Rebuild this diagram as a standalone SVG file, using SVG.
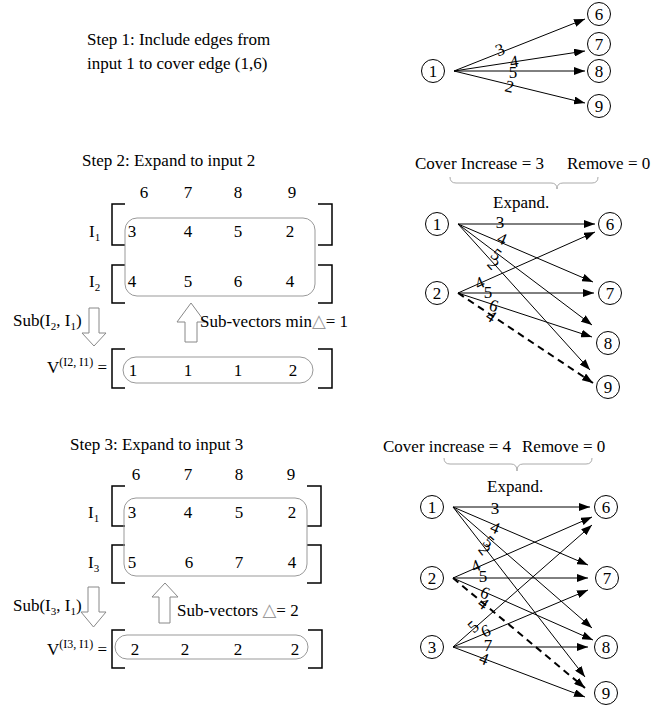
<svg xmlns="http://www.w3.org/2000/svg" width="670" height="711" viewBox="0 0 670 711">
  <defs>
    <marker id="arrow" viewBox="0 0 11 8" refX="11" refY="4" markerWidth="11" markerHeight="8" markerUnits="userSpaceOnUse" orient="auto">
      <path d="M0,0 L11,4 L0,8 z" fill="#000"/>
    </marker>
    <style>
      text { font-family: "Liberation Serif", "Times New Roman", serif; font-size: 17px; fill: #000; }
      .mid { text-anchor: middle; }
      .sub { font-size: 11px; }
      .sup { font-size: 12px; }
      .tri { fill: #999; font-family: "DejaVu Sans", sans-serif; font-size: 18px; }
      .node circle { fill: #fff; stroke: #000; stroke-width: 1; }
      .edge { stroke: #000; stroke-width: 1; fill: none; marker-end: url(#arrow); }
      .dash { stroke: #000; stroke-width: 2; stroke-dasharray: 7 5; fill: none; marker-end: url(#arrow); }
      .brk { stroke: #000; stroke-width: 1.5; fill: none; }
      .box { stroke: #999; stroke-width: 1; fill: none; }
      .brace { stroke: #aaa; stroke-width: 1; fill: none; }
      .blk { stroke: #888; stroke-width: 1; fill: #fff; }
    </style>
  </defs>

  <!-- ===== Step 1 ===== -->
  <text x="87" y="45">Step 1: Include edges from</text>
  <text x="87" y="69">input 1 to cover edge (1,6)</text>

  <g id="s1-connectors">
    <line class="edge" x1="454" y1="71" x2="585" y2="19"/>
    <line class="edge" x1="454" y1="71" x2="585" y2="51"/>
    <line class="edge" x1="454" y1="71" x2="585" y2="71"/>
    <line class="edge" x1="454" y1="71" x2="585" y2="103"/>
    <text class="mid" transform="translate(502,55) rotate(-21)">3</text>
    <text class="mid" transform="translate(515,67) rotate(-9)">4</text>
    <text class="mid" transform="translate(513,78)">5</text>
    <text class="mid" transform="translate(508,92) rotate(14)">2</text>
  </g>
  <g id="s1-n1" class="node"><circle cx="433" cy="71" r="11.5"/><text class="mid" x="433" y="77">1</text></g>
  <g id="s1-n6" class="node"><circle cx="599" cy="14" r="11.5"/><text class="mid" x="599" y="20">6</text></g>
  <g id="s1-n7" class="node"><circle cx="599" cy="44" r="11.5"/><text class="mid" x="599" y="50">7</text></g>
  <g id="s1-n8" class="node"><circle cx="599" cy="71" r="11.5"/><text class="mid" x="599" y="77">8</text></g>
  <g id="s1-n9" class="node"><circle cx="599" cy="106" r="11.5"/><text class="mid" x="599" y="112">9</text></g>

  <!-- ===== Step 2: matrix ===== -->
  <text x="82" y="166">Step 2: Expand to input 2</text>
  <g id="s2-matrix">
    <text class="mid" x="144" y="198">6</text>
    <text class="mid" x="188" y="198">7</text>
    <text class="mid" x="238" y="198">8</text>
    <text class="mid" x="292" y="198">9</text>

    <text x="89" y="237">I<tspan class="sub" dy="4">1</tspan></text>
    <text x="89" y="287">I<tspan class="sub" dy="4">2</tspan></text>

    <path class="brk" d="M125,204 H112 V245 H125"/>
    <path class="brk" d="M318,204 H332 V245 H318"/>
    <path class="brk" d="M125,265 H112 V303 H125"/>
    <path class="brk" d="M318,265 H332 V303 H318"/>
    <rect class="box" x="125" y="218" width="190" height="78" rx="12"/>

    <text class="mid" x="132" y="237">3</text>
    <text class="mid" x="188" y="237">4</text>
    <text class="mid" x="238" y="237">5</text>
    <text class="mid" x="290" y="237">2</text>
    <text class="mid" x="132" y="287">4</text>
    <text class="mid" x="188" y="287">5</text>
    <text class="mid" x="238" y="287">6</text>
    <text class="mid" x="290" y="287">4</text>
  </g>

  <g id="s2-ops">
    <text x="13" y="326">Sub(I<tspan class="sub" dy="4">2</tspan><tspan dy="-4">, I</tspan><tspan class="sub" dy="4">1</tspan><tspan dy="-4">)</tspan></text>
    <polygon class="blk" points="89,308 99,308 99,333 106,333 94,346 82,333 89,333"/>
    <polygon class="blk" points="185,342 197,342 197,322 205,322 191,303 177,322 185,322"/>
    <text x="200" y="327">Sub-vectors min<tspan class="tri">△</tspan>= 1</text>
  </g>

  <g id="s2-vector">
    <text x="47" y="373">V<tspan class="sup" dy="-7">(I2, I1)</tspan><tspan dy="7"> =</tspan></text>
    <path class="brk" d="M125,349 H112 V388 H125"/>
    <path class="brk" d="M318,349 H332 V388 H318"/>
    <rect class="box" x="123" y="357" width="190" height="26" rx="13"/>
    <text class="mid" x="133" y="376">1</text>
    <text class="mid" x="188" y="376">1</text>
    <text class="mid" x="238" y="376">1</text>
    <text class="mid" x="293" y="376">2</text>
  </g>

  <!-- ===== Step 2: graph ===== -->
  <text x="415" y="169">Cover Increase = 3</text>
  <text x="567" y="169">Remove = 0</text>
  <path class="brace" d="M450,177 Q450,183 456,183 H551 Q557,183 557,189 Q557,183 563,183 H592 Q598,183 598,177"/>
  <text x="493" y="208">Expand.</text>

  <g id="s2-connectors">
    <line class="edge" x1="458" y1="224" x2="595" y2="224"/>
    <line class="edge" x1="458" y1="224" x2="593" y2="282"/>
    <line class="edge" x1="458" y1="224" x2="592" y2="325"/>
    <line class="edge" x1="458" y1="224" x2="590" y2="370"/>
    <line class="edge" x1="458" y1="293" x2="595" y2="232"/>
    <line class="edge" x1="458" y1="293" x2="594" y2="293"/>
    <line class="edge" x1="458" y1="293" x2="592" y2="337"/>
    <line class="dash" x1="458" y1="293" x2="593" y2="383"/>
    <text class="mid" transform="translate(500,228)">3</text>
    <text class="mid" transform="translate(500,244) rotate(23)">4</text>
    <text class="mid" transform="translate(493,259) rotate(37)">5</text>
    <text class="mid" transform="translate(489,268) rotate(48)">2</text>
    <text class="mid" transform="translate(482,288) rotate(-24)">4</text>
    <text class="mid" transform="translate(488,298)">5</text>
    <text class="mid" transform="translate(492,311) rotate(18)">6</text>
    <text class="mid" transform="translate(488,321) rotate(34)">4</text>
  </g>
  <g id="s2-n1" class="node"><circle cx="437" cy="224" r="11.5"/><text class="mid" x="437" y="230">1</text></g>
  <g id="s2-n2" class="node"><circle cx="437" cy="293" r="11.5"/><text class="mid" x="437" y="299">2</text></g>
  <g id="s2-n6" class="node"><circle cx="610" cy="224" r="11.5"/><text class="mid" x="610" y="230">6</text></g>
  <g id="s2-n7" class="node"><circle cx="610" cy="293" r="11.5"/><text class="mid" x="610" y="299">7</text></g>
  <g id="s2-n8" class="node"><circle cx="608" cy="343" r="11.5"/><text class="mid" x="608" y="349">8</text></g>
  <g id="s2-n9" class="node"><circle cx="608" cy="387" r="11.5"/><text class="mid" x="608" y="393">9</text></g>

  <!-- ===== Step 3: matrix ===== -->
  <text x="70" y="450">Step 3: Expand to input 3</text>
  <g id="s3-matrix">
    <text class="mid" x="136" y="480">6</text>
    <text class="mid" x="188" y="480">7</text>
    <text class="mid" x="239" y="480">8</text>
    <text class="mid" x="291" y="480">9</text>

    <text x="88" y="518">I<tspan class="sub" dy="4">1</tspan></text>
    <text x="88" y="568">I<tspan class="sub" dy="4">3</tspan></text>

    <path class="brk" d="M125,486 H112 V526 H125"/>
    <path class="brk" d="M307,486 H321 V526 H307"/>
    <path class="brk" d="M125,545 H112 V583 H125"/>
    <path class="brk" d="M307,545 H321 V583 H307"/>
    <rect class="box" x="124" y="498" width="183" height="78" rx="12"/>

    <text class="mid" x="132" y="518">3</text>
    <text class="mid" x="188" y="518">4</text>
    <text class="mid" x="239" y="518">5</text>
    <text class="mid" x="292" y="518">2</text>
    <text class="mid" x="132" y="568">5</text>
    <text class="mid" x="189" y="568">6</text>
    <text class="mid" x="239" y="568">7</text>
    <text class="mid" x="292" y="568">4</text>
  </g>

  <g id="s3-ops">
    <text x="13" y="611">Sub(I<tspan class="sub" dy="4">3</tspan><tspan dy="-4">, I</tspan><tspan class="sub" dy="4">1</tspan><tspan dy="-4">)</tspan></text>
    <polygon class="blk" points="88,587 99,587 99,612 106,612 93.5,627 81,612 88,612"/>
    <polygon class="blk" points="159,623 170,623 170,597 178,597 165,583 152,597 159,597"/>
    <text x="177" y="616">Sub-vectors <tspan class="tri">△</tspan>= 2</text>
  </g>

  <g id="s3-vector">
    <text x="47" y="655">V<tspan class="sup" dy="-7">(I3, I1)</tspan><tspan dy="7"> =</tspan></text>
    <path class="brk" d="M125,630 H112 V668 H125"/>
    <path class="brk" d="M308,630 H322 V668 H308"/>
    <rect class="box" x="115" y="635" width="193" height="24" rx="12"/>
    <text class="mid" x="135" y="655">2</text>
    <text class="mid" x="185" y="655">2</text>
    <text class="mid" x="238" y="655">2</text>
    <text class="mid" x="295" y="655">2</text>
  </g>

  <!-- ===== Step 3: graph ===== -->
  <text x="383" y="452">Cover increase = 4</text>
  <text x="522" y="452">Remove = 0</text>
  <path class="brace" d="M444,458 Q444,464 450,464 H511 Q517,464 517,471 Q517,464 523,464 H586 Q592,464 592,458"/>
  <text x="487" y="492">Expand.</text>

  <g id="s3-connectors">
    <line class="edge" x1="453" y1="507" x2="590" y2="507"/>
    <line class="edge" x1="453" y1="507" x2="588" y2="565"/>
    <line class="edge" x1="453" y1="507" x2="592" y2="628"/>
    <line class="edge" x1="453" y1="507" x2="585" y2="677"/>
    <line class="edge" x1="453" y1="578" x2="592" y2="517"/>
    <line class="edge" x1="453" y1="578" x2="588" y2="578"/>
    <line class="edge" x1="453" y1="578" x2="593" y2="640"/>
    <line class="dash" x1="453" y1="578" x2="585" y2="688"/>
    <line class="edge" x1="453" y1="647" x2="592" y2="525"/>
    <line class="edge" x1="453" y1="647" x2="588" y2="590"/>
    <line class="edge" x1="453" y1="647" x2="588" y2="647"/>
    <line class="edge" x1="453" y1="647" x2="585" y2="697"/>
    <text class="mid" transform="translate(495,514)">3</text>
    <text class="mid" transform="translate(493,533) rotate(23)">4</text>
    <text class="mid" transform="translate(485,546) rotate(41)">5</text>
    <text class="mid" transform="translate(480,553) rotate(52)">2</text>
    <text class="mid" transform="translate(478,571) rotate(-23)">4</text>
    <text class="mid" transform="translate(483,582)">5</text>
    <text class="mid" transform="translate(483,598) rotate(22)">6</text>
    <text class="mid" transform="translate(480,608) rotate(37)">4</text>
    <text class="mid" transform="translate(477,631) rotate(-41)">5</text>
    <text class="mid" transform="translate(488,636) rotate(-23)">6</text>
    <text class="mid" transform="translate(488,651)">7</text>
    <text class="mid" transform="translate(482,664) rotate(21)">4</text>
  </g>
  <g id="s3-n1" class="node"><circle cx="432" cy="507" r="11.5"/><text class="mid" x="432" y="513">1</text></g>
  <g id="s3-n2" class="node"><circle cx="432" cy="578" r="11.5"/><text class="mid" x="432" y="584">2</text></g>
  <g id="s3-n3" class="node"><circle cx="432" cy="647" r="11.5"/><text class="mid" x="432" y="653">3</text></g>
  <g id="s3-n6" class="node"><circle cx="606" cy="507" r="11.5"/><text class="mid" x="606" y="513">6</text></g>
  <g id="s3-n7" class="node"><circle cx="607" cy="578" r="11.5"/><text class="mid" x="607" y="584">7</text></g>
  <g id="s3-n8" class="node"><circle cx="606" cy="647" r="11.5"/><text class="mid" x="606" y="653">8</text></g>
  <g id="s3-n9" class="node"><circle cx="606" cy="693" r="11.5"/><text class="mid" x="606" y="699">9</text></g>
</svg>
